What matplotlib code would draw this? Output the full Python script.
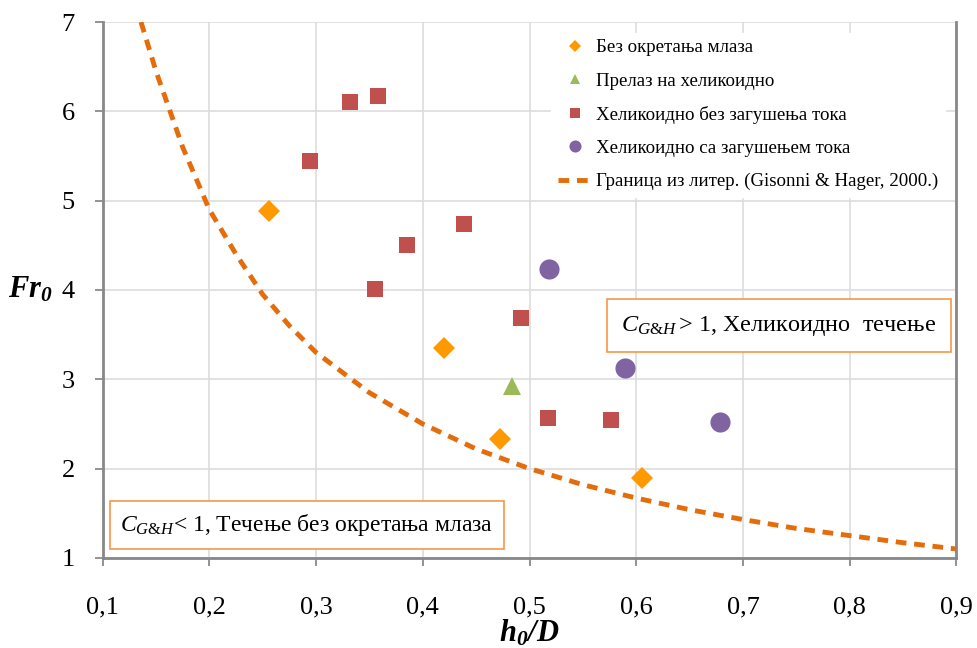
import matplotlib
matplotlib.use("Agg")
import matplotlib.pyplot as plt

# ==============================================================================
# Data
# ==============================================================================

# Без окретања млаза (diamonds)
x_bez = [0.256, 0.420, 0.472, 0.605]
y_bez = [4.88, 3.35, 2.33, 1.90]

# Прелаз на хеликоидно (triangle)
x_prelaz = [0.484]
y_prelaz = [2.92]

# Хеликоидно без загушења тока (squares)
x_hel = [0.294, 0.332, 0.358, 0.385, 0.439, 0.355, 0.492, 0.517, 0.576]
y_hel = [5.44, 6.11, 6.17, 4.50, 4.74, 4.01, 3.69, 2.57, 2.54]

# Хеликоидно са загушењем тока (circles)
x_zag = [0.518, 0.589, 0.678]
y_zag = [4.23, 3.13, 2.52]

# Граница из литер. (Gisonni & Hager, 2000.)
x_gr = [0.136, 0.15, 0.175, 0.2, 0.225, 0.25, 0.275, 0.3, 0.35, 0.4, 0.45,
        0.5, 0.55, 0.6, 0.65, 0.7, 0.75, 0.8, 0.85, 0.9]
y_gr = [7.0, 6.45, 5.6, 4.9, 4.4, 3.95, 3.6, 3.3, 2.85, 2.5, 2.22,
        2.0, 1.82, 1.67, 1.54, 1.43, 1.33, 1.25, 1.17, 1.1]

xticks = [0.1, 0.2, 0.3, 0.4, 0.5, 0.6, 0.7, 0.8, 0.9]
xticklabels = ["0,1", "0,2", "0,3", "0,4", "0,5", "0,6", "0,7", "0,8", "0,9"]
yticks = [1, 2, 3, 4, 5, 6, 7]

plt.rcParams["font.family"] = ["Liberation Serif", "DejaVu Serif"]
plt.rcParams["mathtext.fontset"] = "custom"
plt.rcParams["mathtext.rm"] = "Liberation Serif"
plt.rcParams["mathtext.it"] = "Liberation Serif:italic"
plt.rcParams["mathtext.bf"] = "Liberation Serif:bold"
plt.rcParams["mathtext.bfit"] = "Liberation Serif:italic:bold"

fig = plt.figure(figsize=(9.77, 6.48), dpi=100)
ax = fig.add_axes([0.105, 0.139, 0.874, 0.827])

ax.plot(x_bez, y_bez, "D", color="#FF9900", markersize=11, markeredgewidth=0,
        label="Без окретања млаза", zorder=3)
ax.plot(x_prelaz, y_prelaz, "^", color="#9BBB59", markersize=13, markeredgewidth=0,
        label="Прелаз на хеликоидно", zorder=3)
ax.plot(x_hel, y_hel, "s", color="#C0504D", markersize=12, markeredgewidth=0,
        label="Хеликоидно без загушења тока", zorder=3)
ax.plot(x_zag, y_zag, "o", color="#8064A2", markersize=14.5, markeredgewidth=0,
        label="Хеликоидно са загушењем тока", zorder=3)
ax.plot(x_gr, y_gr, "--", color="#E46C0A", linewidth=3.5, dashes=(2.2, 1.6),
        label="Граница из литер. (Gisonni & Hager, 2000.)", zorder=2)

ax.set_xlim(0.1, 0.9)
ax.set_ylim(1, 7)
ax.set_xticks(xticks)
ax.set_xticklabels(xticklabels)
ax.set_yticks(yticks)
ax.tick_params(axis="both", labelsize=19, colors="#808080", labelcolor="black",
               direction="out", length=6, width=1.2)
ax.tick_params(axis="x", pad=22)
ax.tick_params(axis="y", pad=14)
ax.grid(True, color="#DDDDDD", linewidth=1.2)
ax.set_axisbelow(True)
for sp in ax.spines.values():
    sp.set_color("#888888")
    sp.set_linewidth(2)
ax.spines["top"].set_visible(False)

ax.set_xlabel("$\\mathbfit{h_0/D}$", fontsize=22, va="center")
ax.xaxis.set_label_coords(0.5, -0.14)
ax.set_ylabel("$\\mathbfit{Fr_0}$", fontsize=22, rotation=0, va="center")
ax.yaxis.set_label_coords(-0.085, 0.50)

leg = ax.legend(loc="upper right", fontsize=13.6, frameon=True, fancybox=False,
                framealpha=1, edgecolor="white", markerscale=0.6,
                handlelength=1.8, handletextpad=0.25, labelspacing=0.85,
                borderpad=0.35, bbox_to_anchor=(0.998, 0.998))
leg.set_zorder(5)

ax.text(0.586, 3.60, "$C_{G&H}$$\\,$> 1, Хеликоидно  течење", fontsize=17.5,
        va="center", ha="left", zorder=6,
        bbox=dict(boxstyle="square,pad=0.6", facecolor="white",
                  edgecolor="#F79646", linewidth=1.2))
ax.text(0.1165, 1.37, "$C_{G&H}$< 1, Течење без окретања млаза", fontsize=17,
        va="center", ha="left", zorder=6,
        bbox=dict(boxstyle="square,pad=0.45", facecolor="white",
                  edgecolor="#F79646", linewidth=1.2))

fig.savefig("out.png", dpi=100)
